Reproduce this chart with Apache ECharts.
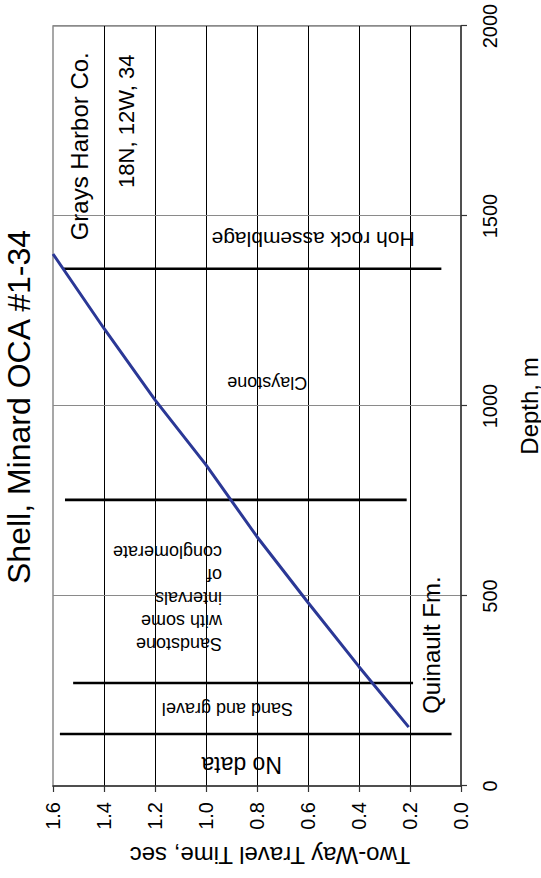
<!DOCTYPE html>
<html>
<head>
<meta charset="utf-8">
<script src="https://cdn.jsdelivr.net/npm/echarts@6/dist/echarts.min.js"></script>
<style>
html,body{margin:0;padding:0;width:541px;height:878px;overflow:hidden;background:#fff;}
#chart{position:absolute;left:0;top:0;width:878px;height:541px;transform-origin:0 0;transform:translate(0px,878px) rotate(-90deg);}
</style>
</head>
<body>
<div id="chart"></div>
<script>
// ---- data ----
const titleText = 'Shell, Minard OCA #1-34';
const depthAxisName = 'Depth, m';
const twtAxisName = 'Two-Way Travel Time, sec';

// time-depth curve
const curveDepth = [155, 314, 483, 656, 845, 1016, 1204, 1400];
const curveTwt   = [0.205, 0.4, 0.6, 0.8, 1.0, 1.2, 1.4, 1.6];

// unit boundary lines
const boundaryDepth  = [137, 271, 753, 1361];
const boundaryTwtLow = [0.037, 0.188, 0.213, 0.077];
const boundaryTwtHigh= [1.573, 1.521, 1.553, 1.559];

// unit names written vertically inside intervals
const unitNames = ['No data', 'Sand and gravel', 'Sandstone\nwith some\nintervals\nof\nconglomerate', 'Claystone', 'Hoh rock assemblage'];
const unitDepth = [56, 202, 495, 1060, 1437];
const unitTwt   = [0.86, 0.916, 0.937, 0.76, 0.58];

// horizontal notes
const noteNames = ['Quinault Fm.', 'Grays Harbor Co.', '18N, 12W, 34'];
const noteDepth = [190, 1436, 1574];
const noteTwt   = [0.114, 1.497, 1.312];

// ---- styles ----
const FONT = '"Liberation Sans", Arial, Helvetica, sans-serif';
const unitFontSize = [23, 18, 18, 18, 21];
const unitAlign = ['center', 'center', 'left', 'center', 'center'];
const noteFontSize = [24, 24, 22];

const chart = echarts.init(document.getElementById('chart'), null, {renderer: 'svg', width: 878, height: 541});

const option = {
  animation: false,
  backgroundColor: '#fff',
  textStyle: {fontFamily: FONT},
  graphic: [{
    type: 'text', x: 471, y: 3, silent: true,
    style: {text: titleText, fontSize: 32, fontFamily: FONT, fill: '#000', align: 'center', verticalAlign: 'top', textAlign: 'center', textVerticalAlign: 'top'}
  }],
  grid: {left: 92, right: 26, top: 53, bottom: 80, containLabel: false, outerBoundsMode: 'none',
         show: true, borderColor: '#8a8a8a', borderWidth: 1.5, backgroundColor: 'transparent'},
  xAxis: {
    type: 'value', min: 0, max: 2000, interval: 500,
    name: depthAxisName, nameLocation: 'middle', nameGap: 56,
    nameTextStyle: {fontSize: 24, color: '#000', fontFamily: FONT},
    axisLine: {show: true, onZero: false, lineStyle: {color: '#333', width: 1.5}},
    axisTick: {show: true, inside: false, length: 6, lineStyle: {color: '#333', width: 1.2}},
    axisLabel: {fontSize: 20, color: '#000', margin: 19, fontFamily: FONT, formatter: v => String(v)},
    splitLine: {show: true, showMinLine: false, lineStyle: {color: '#8a8a8a', width: 1}}
  },
  yAxis: {
    type: 'value', min: 0, max: 1.6, interval: 0.2,
    name: twtAxisName, nameLocation: 'middle', nameGap: 57, nameRotate: 90,
    nameTextStyle: {fontSize: 24, color: '#000', fontFamily: FONT, padding: [0, 26, 0, 0]},
    axisLine: {show: true, onZero: false, lineStyle: {color: '#333', width: 1.5}},
    axisTick: {show: true, inside: false, length: 6, lineStyle: {color: '#333', width: 1.2}},
    axisLabel: {fontSize: 20, color: '#000', margin: 16, fontFamily: FONT, formatter: v => v.toFixed(1)},
    splitLine: {show: true, showMinLine: false, showMaxLine: false, lineStyle: {color: '#000', width: 1}}
  },
  series: [
    {
      type: 'custom', name: 'boundaries', silent: true, z: 3,
      data: boundaryDepth.map((d, i) => [d, boundaryTwtLow[i], boundaryTwtHigh[i]]),
      encode: {x: 0, y: [1, 2]},
      renderItem: (params, api) => {
        const p1 = api.coord([api.value(0), api.value(1)]);
        const p2 = api.coord([api.value(0), api.value(2)]);
        return {type: 'line', shape: {x1: p1[0], y1: p1[1], x2: p2[0], y2: p2[1]},
                style: {stroke: '#000', lineWidth: 2.6}};
      }
    },
    {
      type: 'line', name: 'TWT', silent: true, z: 4,
      data: curveDepth.map((d, i) => [d, curveTwt[i]]),
      symbol: 'none', smooth: false,
      lineStyle: {color: '#2B3896', width: 3}
    },
    {
      type: 'custom', name: 'units', silent: true, z: 5,
      data: unitNames.map((n, i) => [unitDepth[i], unitTwt[i], i]),
      encode: {x: 0, y: 1},
      renderItem: (params, api) => {
        const i = api.value(2);
        const p = api.coord([api.value(0), api.value(1)]);
        return {type: 'text', x: p[0], y: p[1], rotation: Math.PI / 2,
                style: {text: unitNames[i], fontSize: unitFontSize[i], fontFamily: FONT, fill: '#000',
                        align: unitAlign[i], verticalAlign: 'middle', lineHeight: 23}};
      }
    },
    {
      type: 'custom', name: 'notes', silent: true, z: 5,
      data: noteNames.map((n, i) => [noteDepth[i], noteTwt[i], i]),
      encode: {x: 0, y: 1},
      renderItem: (params, api) => {
        const i = api.value(2);
        const p = api.coord([api.value(0), api.value(1)]);
        return {type: 'text', x: p[0], y: p[1],
                style: {text: noteNames[i], fontSize: noteFontSize[i], fontFamily: FONT, fill: '#000',
                        align: 'left', verticalAlign: 'middle'}};
      }
    }
  ]
};
chart.setOption(option);
</script>
</body>
</html>
